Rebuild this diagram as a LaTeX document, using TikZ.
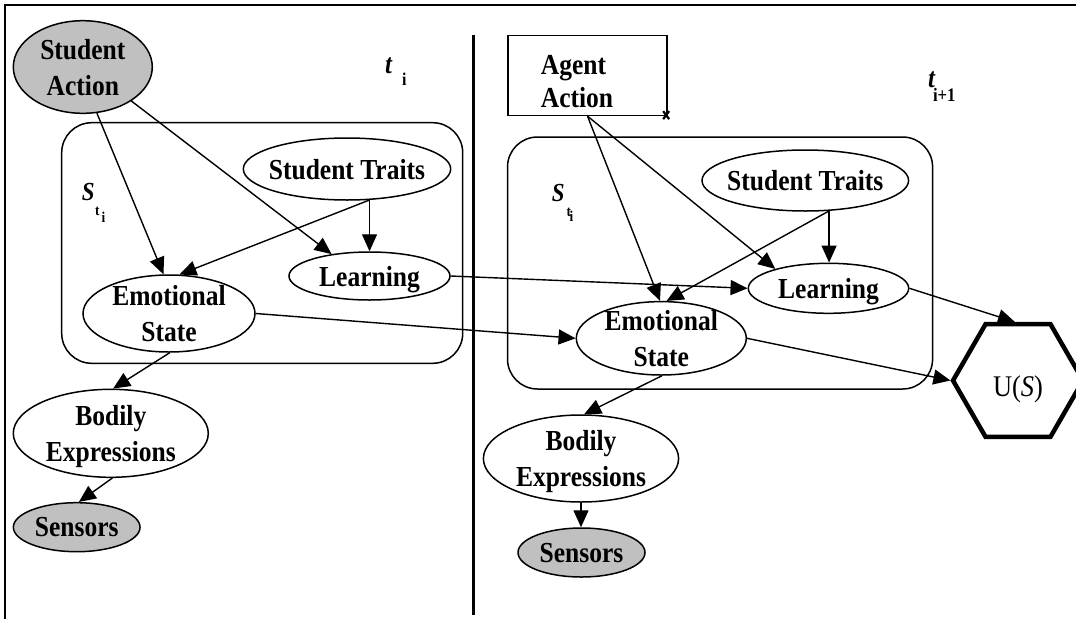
\documentclass[tikz,border=0pt]{standalone}
\usepackage{fontspec}
\setmainfont{Liberation Serif}[FakeStretch=0.88]
\usetikzlibrary{shapes.geometric,arrows.meta,calc}
\definecolor{obsgray}{RGB}{192,192,192}

\tikzset{
  txt/.style={font=\bfseries\fontsize{29}{36}\selectfont},
  var/.style={ellipse, draw, line width=1.5pt, inner sep=-14pt, align=center, text depth=0pt, txt},
  obs/.style={var, fill=obsgray},
  plate/.style={draw, line width=1.5pt, rounded corners=30pt},
  link/.style={line width=1.4pt, -{Triangle[length=17pt,width=15pt]}},
  lbl/.style={anchor=base west, inner sep=0pt, font=\bfseries\fontsize{28}{28}\selectfont},
}

\begin{document}
\begin{tikzpicture}[x=1pt,y=-1pt]
\useasboundingbox (0,0) rectangle (1076,619);
\clip (0,0) rectangle (1076,619);

% frame and time-slice divider
\draw[line width=1.6pt] (5,619) -- (5,5) -- (1076,5);
\coordinate (d1) at (473.5,35);
\coordinate (d2) at (473.5,615);
\draw[line width=3pt] (d1) -- (d2);

% state plates
\draw[plate] (61.7,122.7) rectangle (462.7,363.3);
\draw[plate] (507.5,137) rectangle (932.6,389);

% slice t_i
\node[obs, minimum width=139pt, minimum height=92.6pt] (saL) at (82.8,67) {Student\\Action};
\node[var, minimum width=207.4pt, minimum height=62pt] (stL) at (347,169) {Student Traits};
\node[var, minimum width=161pt, minimum height=48pt] (lnL) at (369.5,276) {Learning};
\node[var, minimum width=172pt, minimum height=77pt] (esL) at (169,313.5) {Emotional\\State};
\node[var, minimum width=195pt, minimum height=88pt] (bdL) at (110.8,433.3) {Bodily\\Expressions};
\node[obs, minimum width=126.7pt, minimum height=49pt] (snL) at (76.7,527.2) {Sensors};

\node[lbl] (tL) at (385,73) {\itshape t\hspace{10pt}\upshape\raisebox{-12pt}{\fontsize{18}{18}\selectfont i}};
\node[lbl] (sL) at (81.7,200) {{\fontsize{26}{26}\selectfont\itshape S}\hspace{0.5pt}\raisebox{-15.7pt}{\fontsize{15}{15}\selectfont t}\hspace{2pt}\raisebox{-22pt}{\fontsize{15}{15}\selectfont i}};

% slice t_{i+1}
\node[draw, line width=1.3pt, minimum width=159pt, minimum height=80pt, inner sep=0pt, font=\bfseries\fontsize{29}{33}\selectfont] (aa) at (587.5,75.5) {\raisebox{0pt}[23pt][26pt]{\begin{tabular}[t]{@{}l@{}}Agent\\Action\rule{21pt}{0pt}\end{tabular}}};
\node[var, minimum width=206.6pt, minimum height=61pt] (stR) at (805.3,180.5) {Student Traits};
\node[var, minimum width=160.4pt, minimum height=50pt] (lnR) at (828.5,288.3) {Learning};
\node[var, minimum width=170pt, minimum height=73.4pt] (esR) at (661.3,338.3) {Emotional\\State};
\node[var, minimum width=195.2pt, minimum height=87pt] (bdR) at (581,458.5) {Bodily\\Expressions};
\node[obs, minimum width=127pt, minimum height=49pt] (snR) at (581.5,552.5) {Sensors};
\node[regular polygon, regular polygon sides=6, draw, line width=4.5pt, minimum size=130pt, inner sep=0pt, text height=31pt, text depth=0pt, font=\fontsize{30}{30}\selectfont] (us) at (1018,380.5) {U(\textit{S})};

\node[lbl] (tR) at (928,87) {\itshape t\hspace{-2pt}\upshape\raisebox{-14pt}{\fontsize{19}{19}\selectfont i+1}};
\node[lbl] (sR) at (551.7,201.7) {{\fontsize{26}{26}\selectfont\itshape S}\hspace{2pt}\raisebox{-15pt}{\fontsize{15}{15}\selectfont t}\hspace{-1.5pt}\raisebox{-20pt}{\fontsize{15}{15}\selectfont i}};

% handle mark at the action box corner
\coordinate (mk) at ($(aa.south east)+(-1.5,-1)$);
\draw[line width=2.2pt] ($(mk)+(-3,-4)$) -- ($(mk)+(3,4)$) ($(mk)+(3,-4)$) -- ($(mk)+(-3,4)$);

% dependencies within t_i
\draw[link] (saL.287) -- (esL.98);
\draw[link] (saL.325) -- (lnL.150);
\draw[link] (stL.306.6) -- (stL.306.6 |- lnL.north);
\draw[link] (stL.306.6) -- (esL.75);
\draw[link] (esL.271) -- (bdL.87);
\draw[link] (bdL.272) -- (snL.85);

% transitions between slices
\draw[link] (lnL.east) -- (lnR.west);
\draw[link] (esL.east) -- (esR.west);

% dependencies within t_{i+1}
\draw[link] (aa.south) -- (esR.92);
\draw[link] (aa.south) -- (lnR.160);
\draw[link] (stR.308.5) -- (stR.308.5 |- lnR.north);
\draw[link] (stR.308.5) -- (esR.82);
\draw[link] (lnR.east) -- (us.93);
\draw[link] (esR.east) -- (us.west);
\draw[link] (esR.271) -- (bdR.86);
\draw[link] (bdR.south) -- (bdR.south |- snR.north);
\end{tikzpicture}
\end{document}
